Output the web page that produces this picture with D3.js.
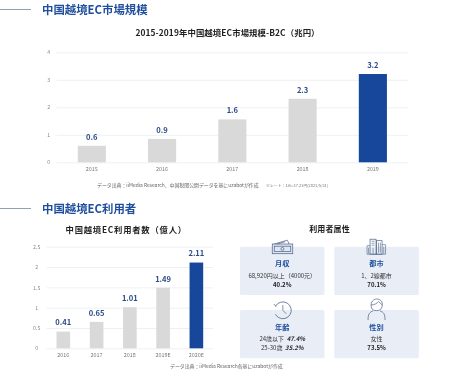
<!DOCTYPE html>
<html><head><meta charset="utf-8">
<script src="https://cdn.jsdelivr.net/npm/d3@7"></script>
<style>
html,body{margin:0;padding:0;background:#fff}
svg{display:block;filter:blur(0.35px)}
text{font-family:"Noto Sans CJK JP","Noto Sans",sans-serif}
</style></head><body><svg id="c" width="451" height="382"></svg>
<script>
const years1=["2015","2016","2017","2018","2019"];
const values1=[0.6,0.85,1.56,2.31,3.21];
const labels1=["0.6","0.9","1.6","2.3","3.2"];
const ticks1=[0,1,2,3,4];
const years2=["2016","2017","2018","2019E","2020E"];
const values2=[0.41,0.65,1.01,1.49,2.11];
const labels2=["0.41","0.65","1.01","1.49","2.11"];
const ticks2=[0,0.5,1,1.5,2,2.5];
const cardTitles=["月収","都市","年齢","性別"];
const cardLines=[[["68,920円以上（4000元）",""],["","40.2%"]],[["1、2線都市",""],["","70.1%"]],[["24歳以下  ","47.4%"],["25-30歳  ","35.2%"]],[["女性",""],["","73.5%"]]];

const BLUE="#17479b",GREY="#d9d9d9",NAVY="#2d4c86",HEAD="#1f4e9c";
const svg=d3.select("#c");

function heading(t,y){
  svg.append("line").attr("x1",0).attr("x2",31).attr("y1",y).attr("y2",y).attr("stroke","#8296ad").attr("stroke-width",0.9);
  svg.append("text").attr("x",42).attr("y",y+4).attr("font-size",11.4).attr("font-weight",700).attr("fill",HEAD).text(t);
}
function title(t,x,y,s,ls){
  svg.append("text").attr("x",x).attr("y",y).attr("text-anchor","middle").attr("font-size",s).attr("font-weight",700).attr("fill","#222").attr("letter-spacing",ls||0).text(t);
}
function bars(o){
  const x=d3.scaleBand().domain(o.cats).range([o.x0,o.x1]).paddingInner(o.pad).paddingOuter(o.pad/2);
  const y=d3.scaleLinear().domain([0,o.max]).range([o.y0,o.y1]);
  const g=svg.append("g");
  const ya=d3.axisLeft(y).tickValues(o.ticks).tickSize(o.x1-o.x0).tickPadding(4).tickFormat(d3.format("~g"));
  const ax=g.append("g").attr("transform",`translate(${o.x1},0)`).call(ya);
  ax.select(".domain").remove();
  ax.selectAll("line").attr("stroke","#e9ecef").attr("stroke-width",0.8);
  ax.selectAll("text").attr("font-size",5.2).attr("fill","#888").attr("text-anchor","middle").attr("dx",o.tickDx);
  g.selectAll("rect").data(o.vals).join("rect")
    .attr("x",(d,i)=>x(o.cats[i])).attr("width",x.bandwidth())
    .attr("y",d=>y(d)).attr("height",d=>y(0)-y(d))
    .attr("fill",(d,i)=>i===o.vals.length-1?BLUE:GREY);
  g.selectAll("text.v").data(o.vals).join("text").attr("class","v")
    .attr("x",(d,i)=>x(o.cats[i])+x.bandwidth()/2).attr("y",d=>y(d)-6.2)
    .attr("text-anchor","middle").attr("font-size",7.6).attr("font-weight",700).attr("fill",NAVY)
    .text((d,i)=>o.labels[i]);
  const xa=d3.axisBottom(x).tickSize(0).tickPadding(5);
  const bx=g.append("g").attr("transform",`translate(0,${o.y0})`).call(xa);
  bx.select(".domain").remove();
  bx.selectAll("text").attr("font-size",5.4).attr("fill","#777");
}

heading("中国越境EC市場規模",9.5);
title("2015-2019年中国越境EC市場規模-B2C（兆円）",227.5,36,8.4,0.1);
bars({cats:years1,vals:values1,labels:labels1,ticks:ticks1,max:4,x0:56.7,x1:408,y0:162.3,y1:52.3,pad:0.6,tickDx:-4});
svg.append("text").attr("x",97).attr("y",186.5).attr("font-size",4.9).attr("fill","#666").text("データ出典：iiMedia Research、中国税関公開データを基にuzabotが作成");
svg.append("text").attr("x",266).attr("y",187).attr("font-size",3.9).attr("fill","#777").text("※レート：1元=17.23円(2021/5/31)");

heading("中国越境EC利用者",208.5);
title("中国越境EC利用者数（億人）",126.2,232.5,8.3,0.8);
bars({cats:years2,vals:values2,labels:labels2,ticks:ticks2,max:2.5,x0:46.7,x1:213,y0:348.3,y1:246.7,pad:0.59,tickDx:-6});
svg.append("text").attr("x",170).attr("y",368).attr("font-size",4.9).attr("fill","#666").text("データ出典：iiMedia Research各基にuzabotが作成");

title("利用者属性",329.5,232,8,0.1);
const cols=[240,334.3],rows=[246.7,310],cw=84.5,ch=48.3;
const icon="#4a6285";
cardTitles.forEach((t,i)=>{
  const cx=cols[i%2],cy=rows[i>>1],mx=cx+cw/2;
  svg.append("rect").attr("x",cx).attr("y",cy).attr("width",cw).attr("height",ch).attr("rx",1.5).attr("fill","#e8edf6");
  svg.append("text").attr("x",mx).attr("y",cy+19.5).attr("text-anchor","middle").attr("font-size",7.2).attr("font-weight",700).attr("fill",HEAD).text(t);
  cardLines[i].forEach((ln,j)=>{
    const tx=svg.append("text").attr("x",mx).attr("y",cy+31+j*9.4).attr("text-anchor","middle").attr("font-size",6).attr("fill","#333").attr("xml:space","preserve");
    if(ln[0]) tx.append("tspan").text(ln[0]);
    if(ln[1]) tx.append("tspan").attr("font-weight",700).attr("font-style",i===2?"italic":"normal").attr("fill","#222").text(ln[1]);
  });
  const ic=svg.append("g").attr("transform",`translate(${mx},${cy})`).attr("fill","none").attr("stroke",icon).attr("stroke-width",0.7);
  if(i===0){
    ic.append("rect").attr("x",-10).attr("y",-2.7).attr("width",20.5).attr("height",9.7).attr("fill","#dfe6f1");
    ic.append("rect").attr("x",-8).attr("y",-0.5).attr("width",16.5).attr("height",5.4);
    ic.append("circle").attr("cx",0.2).attr("cy",2.2).attr("r",1.5);
    ic.append("path").attr("d","M-8,-2.7 L5,-6.5 L7,-2.7 M-5,-2.7 L3,-5");
  } else if(i===1){
    ic.append("rect").attr("x",-6.5).attr("y",-7.5).attr("width",6).attr("height",15);
    ic.append("rect").attr("x",0).attr("y",-6).attr("width",5.5).attr("height",13.5);
    ic.append("path").attr("d","M-9.5,7.5 L-9.5,-1 L-6.5,-1 M5.5,-2 L9,-2 L9,7.5 M-9.5,7.5 L9,7.5 M-5,-5.5 H-2 M-5,-3.5 H-2 M-5,-1.5 H-2 M2,-4 V6 M3.8,-4 V6 M-8,1 V7 M-3.5,1 V7 M7.2,0 V7").attr("stroke-width",0.6);
  } else if(i===2){
    ic.append("circle").attr("cx",0.6).attr("cy",0.3).attr("r",8.4).attr("stroke-dasharray","44 8").attr("transform","rotate(-150 0.6 0.3)");
    ic.append("path").attr("d","M0.6,0.3 L0.6,-5 M0.6,0.3 L4,3.8 M-8.5,-6 L-6,-3.5");
  } else {
    ic.append("path").attr("d","M-5,-2 C-7,-9 -2,-11 0,-11 C5,-11 7,-7 5,-2 C4,1.5 -4,1.5 -5,-2 Z");
    ic.append("path").attr("d","M-5.5,-5 C-2,-5 1,-7 2,-8.5 C3,-7 5,-6 5.8,-5");
    ic.append("path").attr("d","M-8.5,10 C-8.5,4 -7,2 -3.5,1 M8.5,10 C8.5,4 7,2 3.5,1");
  }
});
</script></body></html>
